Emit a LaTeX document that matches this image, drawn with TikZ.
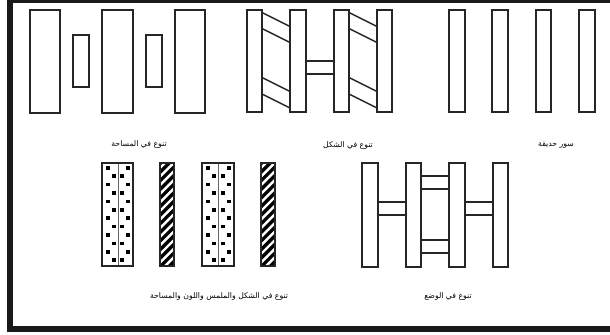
\documentclass[tikz,border=0pt]{standalone}
\usepackage{fontspec}
\newfontfamily\arabicfont[Script=Arabic]{DejaVu Sans}
\TeXXeTstate=1
\usetikzlibrary{positioning}

\tikzset{
  post/.style={draw=black!85, line width=2pt, fill=white},
  slat/.style={draw=black!85, line width=2pt},
  frameline/.style={fill=black!90},
  lbltext/.style={font=\arabicfont\fontsize{11}{13}\selectfont, inner sep=0pt}
}

\begin{document}
\begin{tikzpicture}[x=0.05cm, y=-0.05cm]
\useasboundingbox (0,0) rectangle (610,334);
% Frame
\fill[frameline] (7,0) rectangle (610,3.5);
\fill[frameline] (7,0) rectangle (13,332);
\fill[frameline] (7,326) rectangle (610,332);
%
% Top row
% Variation in area: tall and short posts
\draw[post] (30,10) rectangle (60,113);
\draw[post] (73,35) rectangle (89,87);
\draw[post] (102,10) rectangle (133,113);
\draw[post] (146,35) rectangle (162,87);
\draw[post] (175,10) rectangle (205,113);
\node[lbltext] (lblArea) at (139,145) {\beginR تنوع في المساحة\endR};
%
% Variation in shape: posts with slanted and straight rails
\draw[post] (247,10) rectangle (262,112);
\draw[post] (290,10) rectangle (306,112);
\draw[post] (334,10) rectangle (349,112);
\draw[post] (377,10) rectangle (392,112);
\draw[slat] (262,12.5) -- (290,26.5); % Upper slanted rail
\draw[slat] (262,28.5) -- (290,42.5);
\draw[slat] (262,77.5) -- (290,91.5); % Lower slanted rail
\draw[slat] (262,94) -- (290,108);
\draw[slat] (349,12.5) -- (377,26.5);
\draw[slat] (349,28.5) -- (377,42.5);
\draw[slat] (349,77.5) -- (377,91.5);
\draw[slat] (349,94) -- (377,108);
\draw[post] (306,61) rectangle (334,74); % Straight rail
\node[lbltext] (lblShape) at (348,146) {\beginR تنوع في الشكل\endR};
%
% Garden fence: plain posts
\draw[post] (449,10) rectangle (465,112);
\draw[post] (492,10) rectangle (508,112);
\draw[post] (536,10) rectangle (551,112);
\draw[post] (579,10) rectangle (595,112);
\node[lbltext] (lblFence) at (556,145) {\beginR سور حديقة\endR};
%
% Bottom row
% Variation in shape, texture, colour and area
% First dotted post
\draw[post] (102,163) rectangle (133,266);
\foreach \r in {0,2,...,10} {
  \fill[black] (106,{166+8.4*\r}) rectangle ++(3.5,3.5);
  \fill[black] (126,{166+8.4*\r}) rectangle ++(3.5,3.5);
}
\foreach \r in {1,3,...,11} {
  \fill[black] (112,{166+8.4*\r}) rectangle ++(3.5,3.5);
  \fill[black] (120,{166+8.4*\r}) rectangle ++(3.5,3.5);
}
\draw[black!60, line width=1pt] (118,163) -- (118,266); % Middle line
\draw[post, fill=none] (102,163) rectangle (133,266);
%
% First hatched post
\begin{scope}
\clip (160,163) rectangle (174,266);
\fill[black] (160,163) rectangle (174,266);
\foreach \k in {0,...,14} \draw[white, line width=3.5pt] (156,{172+8.6*\k}) -- (178,{150+8.6*\k});
\end{scope}
\draw[post, fill=none] (160,163) rectangle (174,266);
%
% Second dotted post
\draw[post] (202,163) rectangle (234,266);
\foreach \r in {0,2,...,10} {
  \fill[black] (206,{166+8.4*\r}) rectangle ++(3.5,3.5);
  \fill[black] (227,{166+8.4*\r}) rectangle ++(3.5,3.5);
}
\foreach \r in {1,3,...,11} {
  \fill[black] (212,{166+8.4*\r}) rectangle ++(3.5,3.5);
  \fill[black] (221,{166+8.4*\r}) rectangle ++(3.5,3.5);
}
\draw[black!60, line width=1pt] (218,163) -- (218,266); % Middle line
\draw[post, fill=none] (202,163) rectangle (234,266);
%
% Second hatched post
\begin{scope}
\clip (261,163) rectangle (275,266);
\fill[black] (261,163) rectangle (275,266);
\foreach \k in {0,...,14} \draw[white, line width=3.5pt] (257,{172+8.6*\k}) -- (279,{150+8.6*\k});
\end{scope}
\draw[post, fill=none] (261,163) rectangle (275,266);
\node[lbltext] (lblTexture) at (219,297) {\beginR تنوع في الشكل والملمس واللون والمساحة\endR};
%
% Variation in position: rails at different heights
\draw[post] (362,163) rectangle (378,267);
\draw[post] (406,163) rectangle (421,267);
\draw[post] (449,163) rectangle (465,267);
\draw[post] (493,163) rectangle (508,267);
\draw[post] (378,202) rectangle (406,215);
\draw[post] (465,202) rectangle (493,215);
\draw[post] (421,176) rectangle (449,189);
\draw[post] (421,240) rectangle (449,253);
\node[lbltext] (lblPlace) at (448,297) {\beginR تنوع في الوضع\endR};
%
\end{tikzpicture}
\end{document}
